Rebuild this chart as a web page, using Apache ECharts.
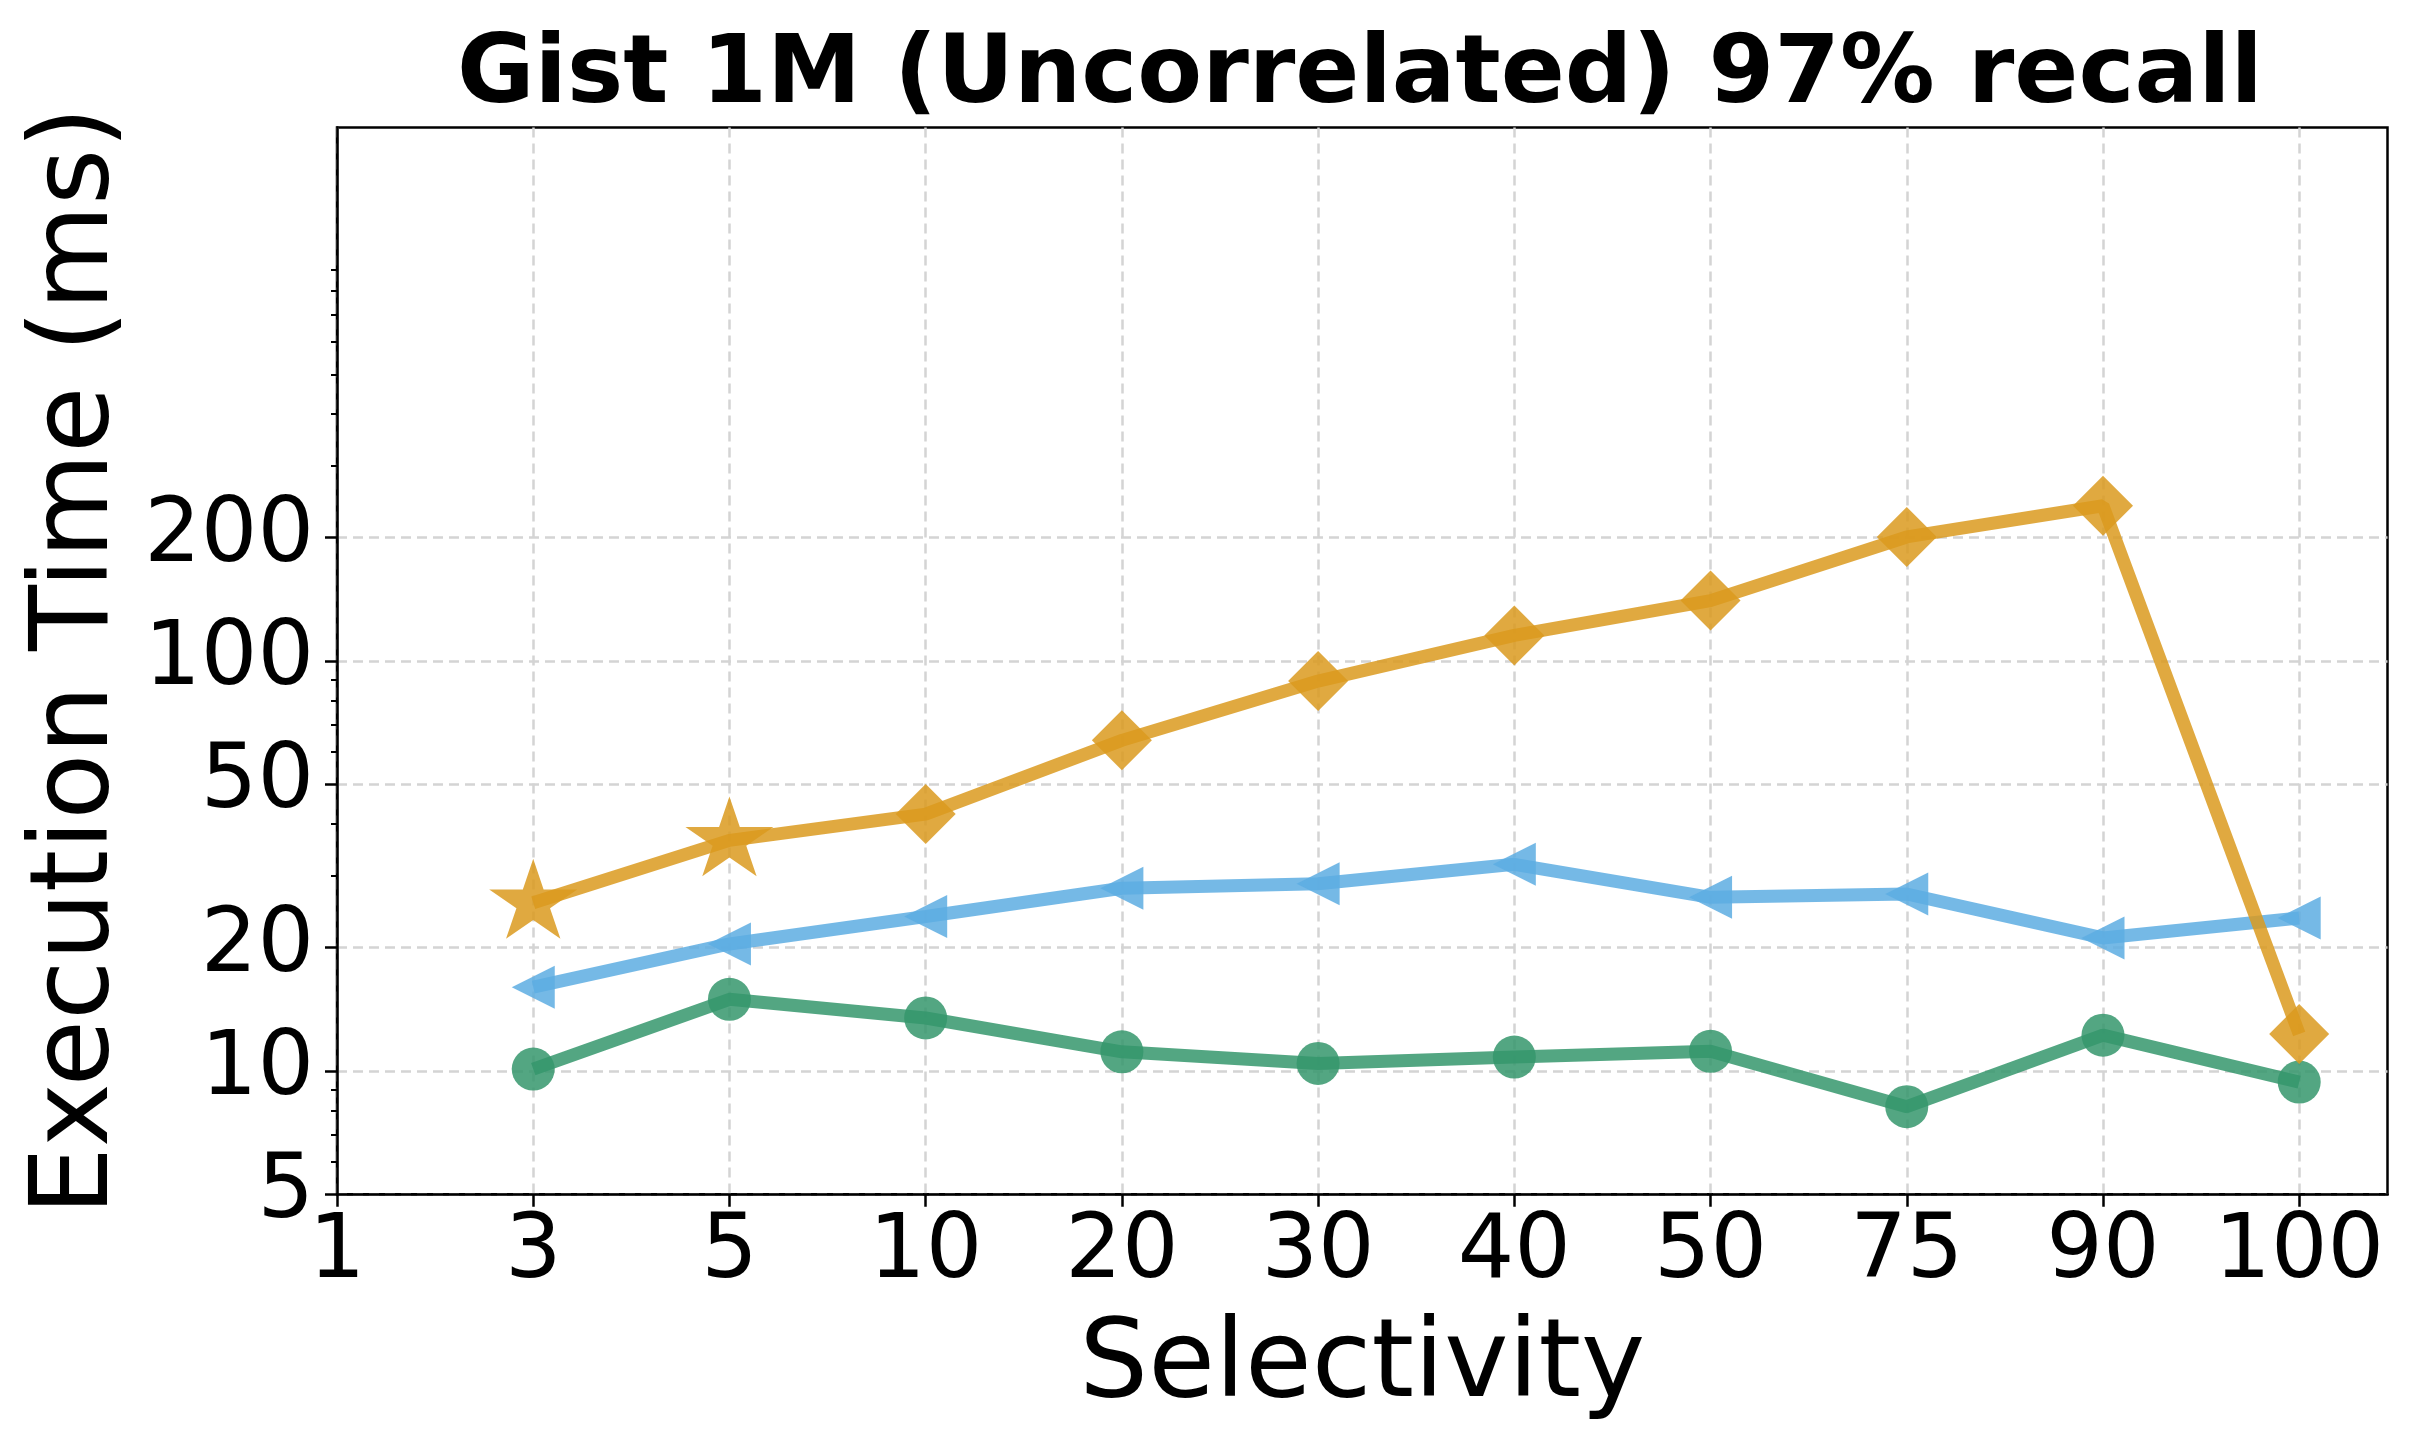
<!DOCTYPE html>
<html>
<head>
<meta charset="utf-8">
<script src="https://cdn.jsdelivr.net/npm/echarts@6/dist/echarts.min.js"></script>
<style>
html,body{margin:0;padding:0;background:#ffffff;}
#chart{width:2420px;height:1454px;}
</style>
</head>
<body>
<div id="chart"></div>
<script>
// ---- data ----
const categories = ['1', '3', '5', '10', '20', '30', '40', '50', '75', '90', '100'];
const seriesSelectivity = ['3', '5', '10', '20', '30', '40', '50', '75', '90', '100'];
const goldValues  = [25.7, 36.5, 42.3, 64.0, 89.3, 115.4, 140.3, 200.6, 239.0, 12.3];
const blueValues  = [16.0, 20.4, 23.8, 27.9, 28.6, 31.9, 26.5, 27.0, 21.1, 23.6];
const greenValues = [10.1, 14.95, 13.46, 11.13, 10.43, 10.81, 11.16, 8.18, 12.22, 9.39];
const yTickValues = [5, 10, 20, 50, 100, 200];
const yMinorTickValues = [6, 7, 8, 9, 30, 40, 60, 70, 80, 90, 300, 400, 500, 600, 700, 800, 900];
const titleText = 'Gist 1M (Uncorrelated) 97% recall';
const xAxisTitle = 'Selectivity';
const yAxisTitle = 'Execution Time (ms)';

// ---- build ----
const FONT = 'DejaVu Sans';
const xTickPositions = categories.map((c, i) => i);
const STAR = 'path://M0,-100L22.45,-30.9L95.1,-30.9L36.33,11.8L58.78,80.9L0,38.2L-58.78,80.9L-36.33,11.8L-95.1,-30.9L-22.45,-30.9Z';

function pts(values) {
  return values.map((v, i) => [categories.indexOf(seriesSelectivity[i]), v]);
}

const goldData = pts(goldValues).map((p, i) => i < 2
  ? { value: p, symbol: STAR, symbolSize: [88, 84], symbolOffset: [0, -4], symbolKeepAspect: true }
  : { value: p, symbol: 'diamond', symbolSize: 60 });

function lineSeries(name, color, data, symbol, size, rotate) {
  return {
    name: name,
    type: 'line',
    data: data,
    symbol: symbol,
    symbolSize: size,
    symbolRotate: rotate || 0,
    showSymbol: true,
    lineStyle: { color: color, width: 13, opacity: 0.85 },
    itemStyle: { color: color, opacity: 0.85, borderWidth: 0 },
    emphasis: { disabled: true },
    animation: false,
    clip: false
  };
}

const chart = echarts.init(document.getElementById('chart'), null, { renderer: 'canvas' });
chart.setOption({
  backgroundColor: '#ffffff',
  animation: false,
  title: {
    text: titleText,
    left: 1360,
    top: 30,
    padding: 0,
    textAlign: 'center',
    textStyle: { fontFamily: FONT, fontSize: 94.5, fontWeight: 'bold', color: '#000', lineHeight: 95 }
  },
  grid: {
    left: 337, right: 32.5, top: 127.5, bottom: 259.7,
    show: true, borderColor: '#000', borderWidth: 2.5, backgroundColor: 'transparent'
  },
  xAxis: {
    type: 'value',
    min: 0,
    max: 10.45,
    interval: 1,
    name: xAxisTitle,
    nameLocation: 'middle',
    nameGap: 119,
    nameTextStyle: { fontFamily: FONT, fontSize: 108.5, color: '#000', lineHeight: 109 },
    axisLine: { show: true, lineStyle: { color: '#000', width: 2.5 } },
    axisTick: { show: true, inside: false, length: 12.5, lineStyle: { color: '#000', width: 2.5 }, customValues: xTickPositions },
    axisLabel: {
      show: true, customValues: xTickPositions,
      formatter: v => categories[Math.round(v)],
      fontFamily: FONT, fontSize: 89, color: '#000', margin: 15, lineHeight: 89
    },
    splitLine: { show: true, lineStyle: { color: '#d4d4d4', width: 2.5, type: [10, 6] } }
  },
  yAxis: [{
    type: 'log',
    logBase: 10,
    min: 5,
    max: 2000,
    position: 'left',
    name: yAxisTitle,
    nameLocation: 'middle',
    nameRotate: 90,
    nameGap: 203,
    nameTextStyle: { fontFamily: FONT, fontSize: 108, color: '#000', lineHeight: 108 },
    axisLine: { show: true, lineStyle: { color: '#000', width: 2.5 } },
    axisTick: { show: true, inside: false, length: 12, lineStyle: { color: '#000', width: 2.5 }, customValues: yTickValues },
    axisLabel: {
      show: true, customValues: yTickValues,
      formatter: v => String(Math.round(v)),
      fontFamily: FONT, fontSize: 89, color: '#000', margin: 23, lineHeight: 89
    },
    splitLine: { show: true, lineStyle: { color: '#d4d4d4', width: 2.5, type: [10, 6] } },
    minorTick: { show: false },
    minorSplitLine: { show: false }
  }, {
    type: 'log',
    logBase: 10,
    min: 5,
    max: 2000,
    position: 'left',
    offset: 0,
    axisLine: { show: false },
    axisTick: { show: true, inside: false, length: 6, lineStyle: { color: '#000', width: 2 }, customValues: yMinorTickValues },
    axisLabel: { show: false },
    splitLine: { show: false }
  }],
  series: [
    lineSeries('green', '#35966C', pts(greenValues), 'circle', 43, 0),
    lineSeries('blue', '#5DADE2', pts(blueValues), 'triangle', 43, 90),
    lineSeries('gold', '#DA9A1E', goldData, 'diamond', 60, 0)
  ]
});
</script>
</body>
</html>
